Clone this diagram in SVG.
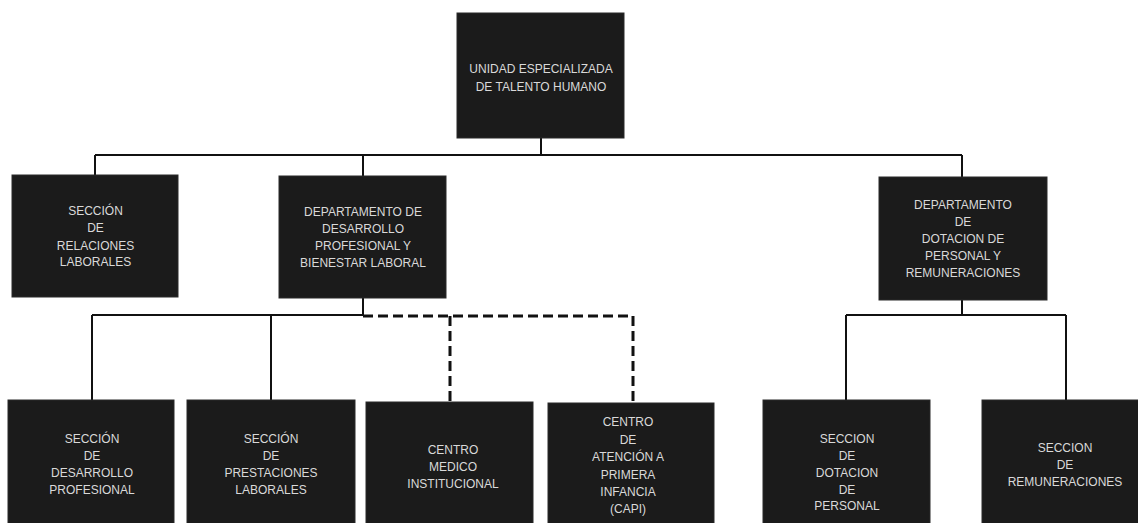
<svg xmlns="http://www.w3.org/2000/svg" width="1138" height="523" viewBox="0 0 1138 523">
<style>
.box{fill:#1b1b1b;stroke:#2a2a2a;stroke-width:1}
.t{font-family:"Liberation Sans",Arial,sans-serif;font-size:12px;fill:#d9d9d9;text-anchor:middle}
.ln{fill:none;stroke:#111;stroke-width:2}
.dash{fill:none;stroke:#111;stroke-width:3;stroke-dasharray:10 5}
</style>
<rect width="1138" height="523" fill="#ffffff"/>
<g id="connectors">
<path class="ln" d="M541 138 V155 M95 155 H962 M95 155 V175 M363 155 V176 M962 155 V177"/>
<path class="ln" d="M363 298 V315 M92 315 H363 M92 315 V400 M271 315 V400"/>
<path class="dash" d="M363 316 H633 M450 316 V402 M633 316 V403"/>
<path class="ln" d="M962 300 V315 M846 315 H1066 M846 315 V400 M1066 315 V400"/>
</g>
<g id="n-unidad">
<rect class="box" x="457" y="13" width="167" height="125"/>
<text class="t" x="541" y="72.5">UNIDAD ESPECIALIZADA</text>
<text class="t" x="541" y="90.5">DE TALENTO HUMANO</text>
</g>
<g id="n-relaciones">
<rect class="box" x="12" y="175" width="166" height="122"/>
<text class="t" x="95.5" y="215">SECCIÓN</text>
<text class="t" x="95.5" y="232">DE</text>
<text class="t" x="95.5" y="249.5">RELACIONES</text>
<text class="t" x="95.5" y="266">LABORALES</text>
</g>
<g id="n-dep-desarrollo">
<rect class="box" x="279" y="176" width="167" height="122"/>
<text class="t" x="363" y="216">DEPARTAMENTO DE</text>
<text class="t" x="363" y="233">DESARROLLO</text>
<text class="t" x="363" y="250">PROFESIONAL Y</text>
<text class="t" x="363" y="267">BIENESTAR LABORAL</text>
</g>
<g id="n-dep-dotacion">
<rect class="box" x="879" y="177" width="168" height="123"/>
<text class="t" x="963" y="208.5">DEPARTAMENTO</text>
<text class="t" x="963" y="226">DE</text>
<text class="t" x="963" y="242.5">DOTACION DE</text>
<text class="t" x="963" y="259.5">PERSONAL Y</text>
<text class="t" x="963" y="277">REMUNERACIONES</text>
</g>
<g id="n-desarrollo-prof">
<rect class="box" x="8" y="400" width="166" height="130"/>
<text class="t" x="92" y="442.5">SECCIÓN</text>
<text class="t" x="92" y="460">DE</text>
<text class="t" x="92" y="476.5">DESARROLLO</text>
<text class="t" x="92" y="493.5">PROFESIONAL</text>
</g>
<g id="n-prestaciones">
<rect class="box" x="187" y="400" width="168" height="130"/>
<text class="t" x="271" y="442.5">SECCIÓN</text>
<text class="t" x="271" y="460">DE</text>
<text class="t" x="271" y="476.5">PRESTACIONES</text>
<text class="t" x="271" y="493.5">LABORALES</text>
</g>
<g id="n-centro-medico">
<rect class="box" x="366" y="402" width="167" height="128"/>
<text class="t" x="453" y="453.5">CENTRO</text>
<text class="t" x="453" y="471">MEDICO</text>
<text class="t" x="453" y="487.5">INSTITUCIONAL</text>
</g>
<g id="n-capi">
<rect class="box" x="548" y="403" width="166" height="127"/>
<text class="t" x="628" y="426">CENTRO</text>
<text class="t" x="628" y="443.5">DE</text>
<text class="t" x="628" y="461">ATENCIÓN A</text>
<text class="t" x="628" y="478.5">PRIMERA</text>
<text class="t" x="628" y="495.5">INFANCIA</text>
<text class="t" x="628" y="512.5">(CAPI)</text>
</g>
<g id="n-dotacion-personal">
<rect class="box" x="763" y="400" width="167" height="130"/>
<text class="t" x="847" y="442.5">SECCION</text>
<text class="t" x="847" y="459.5">DE</text>
<text class="t" x="847" y="476.5">DOTACION</text>
<text class="t" x="847" y="493.5">DE</text>
<text class="t" x="847" y="510">PERSONAL</text>
</g>
<g id="n-remuneraciones">
<rect class="box" x="982" y="400" width="160" height="130"/>
<text class="t" x="1065" y="451.5">SECCION</text>
<text class="t" x="1065" y="468.5">DE</text>
<text class="t" x="1065" y="485.5">REMUNERACIONES</text>
</g>
</svg>
